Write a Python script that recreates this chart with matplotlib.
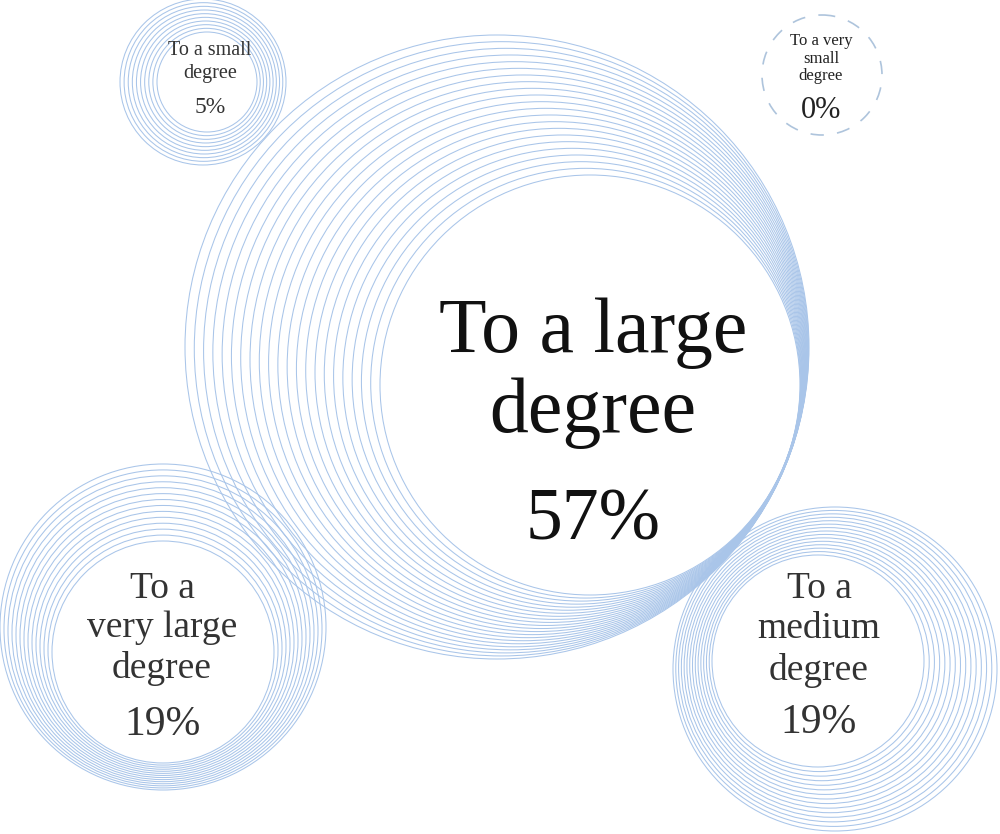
import numpy as np
import matplotlib
matplotlib.use("Agg")
import matplotlib.pyplot as plt
from matplotlib.patches import Circle

# ------------------------------------------------------------------
# DATA
categories = ["To a very large degree", "To a large degree",
              "To a medium degree", "To a small degree",
              "To a very small degree"]
values = [19, 57, 19, 5, 0]
label_lines = [["To a", "very large", "degree"],
               ["To a large", "degree"],
               ["To a", "medium", "degree"],
               ["To a small", "degree"],
               ["To a very", "small", "degree"]]

# ------------------------------------------------------------------
# LAYOUT (pixel space, y down)
# outer centre/radius, inner centre/radius, number of rings
outer = [(163, 627, 163), (497, 347, 312), (835, 669, 162), (203, 82, 83), (822, 75, 60)]
inner = [(163, 652, 111), (590, 385, 210), (818, 661, 106), (207, 82, 50), (822, 75, 60)]
rings = [14, 22, 15, 10, 1]

# text: centre x, baselines of label lines, baseline of value, sizes, colour
text_x = [162, 593, 819, 210, 821]
line_base = [[598, 637, 678], [352, 432], [598, 638, 680], [55, 78], [45, 63, 80]]
value_base = [735, 540, 733, 113, 118]
label_size = [27, 56, 27, 14.5, 12]
value_size = [30, 53, 30, 17, 22]
text_color = ["#333333", "#111111", "#333333", "#333333", "#222222"]

ring_color = "#a9c5e9"
dash_color = "#aec4dc"
font = "Liberation Serif"

fig = plt.figure(figsize=(10, 8.34), dpi=100)
ax = fig.add_axes([0, 0, 1, 1])
ax.set_xlim(0, 1000)
ax.set_ylim(834, 0)
ax.set_aspect("equal")
ax.axis("off")

for i, cat in enumerate(categories):
    ox, oy, R = outer[i]
    ix, iy, r = inner[i]
    n = rings[i]
    if values[i] == 0:
        # empty category -> dashed outline only
        c = Circle((ox, oy), R, fill=False, ec=dash_color, lw=1.2,
                   linestyle=(0, (8, 8)))
        ax.add_patch(c)
    else:
        for t in np.linspace(0, 1, n):
            cx = ox + t * (ix - ox)
            cy = oy + t * (iy - oy)
            rr = R + t * (r - R)
            ax.add_patch(Circle((cx, cy), rr, fill=False, ec=ring_color, lw=0.75))

    # labels
    for line, yb in zip(label_lines[i], line_base[i]):
        ax.text(text_x[i], yb, line, ha="center", va="baseline",
                fontsize=label_size[i], family=font, color=text_color[i])
    ax.text(text_x[i], value_base[i], f"{values[i]}%", ha="center", va="baseline",
            fontsize=value_size[i], family=font, color=text_color[i])

fig.savefig("out.png", dpi=100, facecolor="white")
